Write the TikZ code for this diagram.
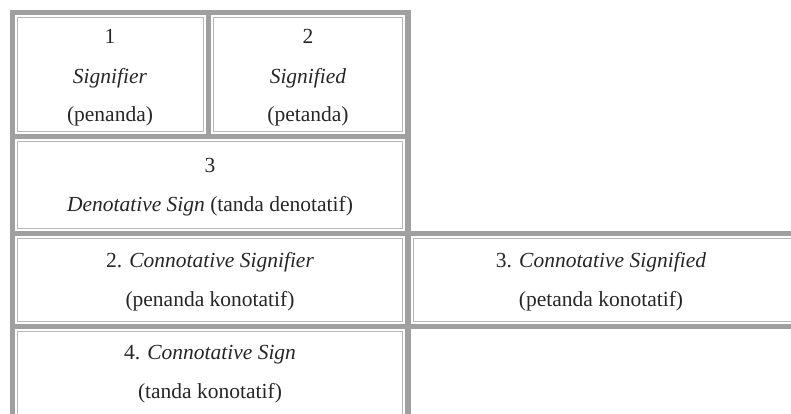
\documentclass[tikz,border=0pt]{standalone}
\usepackage{fontspec}
\setmainfont{Liberation Serif}
\definecolor{bandgray}{HTML}{A0A0A0}
\definecolor{linegray}{HTML}{B8B8B8}

\begin{document}
\begin{tikzpicture}[x=1pt, y=-1pt, font=\fontsize{21.5}{26}\selectfont,
		band/.style={fill=bandgray},
		cell/.style={draw=linegray, line width=1.3pt},
		txt/.style={inner sep=0pt, text=black!85}]
		\clip (0,0) rectangle (791,414);
		% thick frame
		\fill[band] (10,10) rectangle (411,15);
		\fill[band] (10,10) rectangle (15,420);
		\fill[band] (206,10) rectangle (211,138);
		\fill[band] (405,10) rectangle (411,420);
		\fill[band] (10,134) rectangle (411,139);
		\fill[band] (10,231) rectangle (795,236);
		\fill[band] (10,324) rectangle (795,329);
		% cell edges
		\draw[cell] (17.5,17.5) rectangle (203.5,131.5);
		\draw[cell] (213.5,17.5) rectangle (402.5,131.5);
		\draw[cell] (17.5,141.5) rectangle (402.5,228.5);
		\draw[cell] (17.5,238.5) rectangle (402.5,321.5);
		\draw[cell] (413.5,238.5) rectangle (800,321.5);
		\draw[cell] (17.5,331.5) rectangle (402.5,430);
		% denotation
		\node[txt] (one) at (110,36) {1};
		\node[txt] (sgnr) at (110,78) {\textit{Signifier}};
		\node[txt] (pnda) at (110,116) {(penanda)};
		\node[txt] (two) at (308,36) {2};
		\node[txt] (sgnd) at (308,78) {\textit{Signified}};
		\node[txt] (ptda) at (308,116) {(petanda)};
		\node[txt] (three) at (210,165) {3};
		\node[txt] (dsign) at (210,206) {\textit{Denotative Sign} (tanda denotatif)};
		% connotation
		\node[txt] (csgnr) at (210,262) {2. \textit{Connotative Signifier}};
		\node[txt] (pkon) at (210,301) {(penanda konotatif)};
		\node[txt] (csgnd) at (601,262) {3. \textit{Connotative Signified}};
		\node[txt] (ptkon) at (601,301) {(petanda konotatif)};
		\node[txt] (csign) at (210,355) {4. \textit{Connotative Sign}};
		\node[txt] (tkon) at (210,393) {(tanda konotatif)};
	\end{tikzpicture}
\end{document}
